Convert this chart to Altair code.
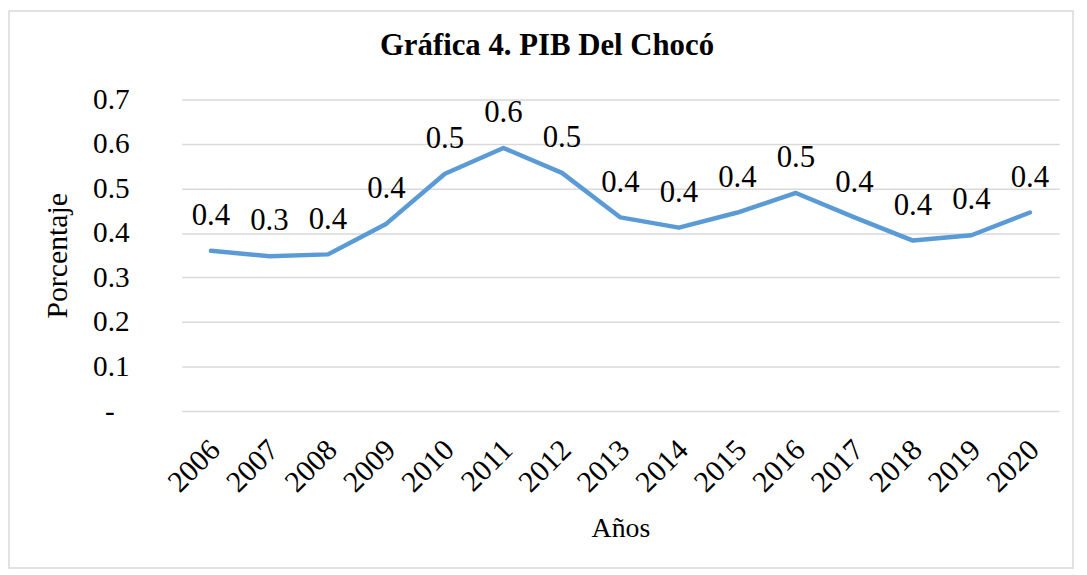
import altair as alt
import pandas as pd

years = ["2006", "2007", "2008", "2009", "2010", "2011", "2012", "2013",
         "2014", "2015", "2016", "2017", "2018", "2019", "2020"]
pib = [0.360, 0.348, 0.352, 0.421, 0.533, 0.591, 0.535, 0.435,
       0.412, 0.446, 0.490, 0.435, 0.383, 0.395, 0.446]
y_ticks = [0.0, 0.1, 0.2, 0.3, 0.4, 0.5, 0.6, 0.7]

df = pd.DataFrame({"year": years, "pib": pib})

FONT = "Liberation Serif"
W, H = 884, 314

x_enc = alt.X("year:O", scale=alt.Scale(type="point", padding=0.5),
              axis=alt.Axis(title="Años", labelAngle=-45, labelAlign="right",
                            labelBaseline="middle", labelPadding=34, labelOffset=4,
                            labelFontSize=30,
                            titleY=126, titleBaseline="alphabetic"))
y_enc = alt.Y("pib:Q", scale=alt.Scale(domain=[0, 0.7], nice=False),
              axis=alt.Axis(title="Porcentaje", values=y_ticks, grid=True,
                            labelExpr="datum.value == 0 ? '-' : format(datum.value, '.1f')",
                            labelPadding={"condition": {"test": "datum.value === 0", "value": 68},
                                          "value": 53},
                            labelFontSize=29.5,
                            titleAngle=-90, titleX=-116, titleY=H / 2,
                            titleAlign="center", titleBaseline="alphabetic",
                            titleFontSize=30))

base = alt.Chart(df)

line = base.mark_line(color="#5B9BD5", strokeWidth=4.5, strokeJoin="round", strokeCap="round").encode(
    x=x_enc, y=y_enc)

labels = base.mark_text(font=FONT, fontSize=31, color="#000000", baseline="alphabetic",
                        align="center", dy=-26).encode(
    x="year:O", y="pib:Q", text=alt.Text("pib:Q", format=".1f"))

border = alt.Chart(alt.Data(values=[{}])).mark_rect(
    filled=False, stroke="#d9d9d9", strokeWidth=1.5).encode(
    x=alt.value(-174), x2=alt.value(898), y=alt.value(-89), y2=alt.value(472))

chart = alt.layer(border, line, labels).properties(
    width=W, height=H,
    title=alt.TitleParams("Gráfica 4. PIB Del Chocó", font=FONT, fontSize=31,
                          fontWeight="bold", color="#000000", anchor="middle",
                          dx=-74, offset=-76, baseline="alphabetic"),
    autosize=alt.AutoSizeParams(type="none"),
    padding={"left": 175, "top": 90, "right": 20, "bottom": 163},
).configure_view(stroke=None).configure_axis(
    domain=False, ticks=False, labelFont=FONT, titleFont=FONT, labelFontSize=28,
    titleFontSize=28, titleFontWeight="normal", labelColor="#000000", titleColor="#000000",
    gridColor="#d9d9d9", gridWidth=1.5
).configure_axisX(grid=False)

chart.save("out.html", embed_options={"renderer": "svg", "actions": False})
